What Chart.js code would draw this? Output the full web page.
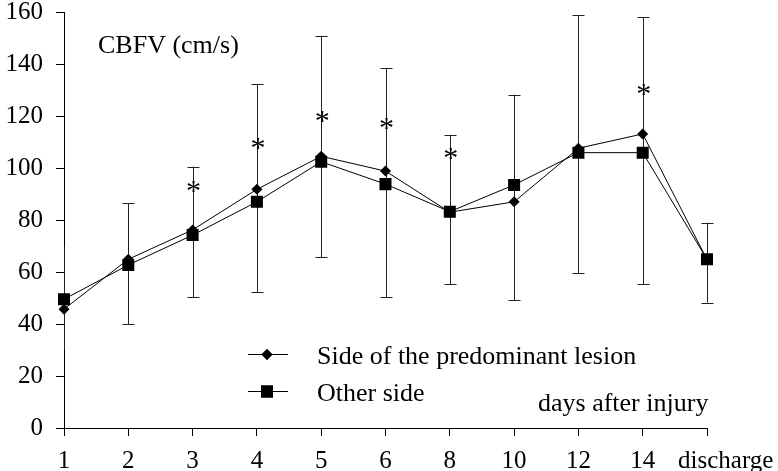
<!DOCTYPE html>
<html>
<head>
<meta charset="utf-8">
<script src="https://cdn.jsdelivr.net/npm/chart.js@4/dist/chart.umd.min.js"></script>
<style>
  html, body { margin: 0; padding: 0; background: #fff; }
  canvas { display: block; }
</style>
</head>
<body>
<canvas id="myChart" width="778" height="471"></canvas>
<script>
// data
const days = ['1', '2', '3', '4', '5', '6', '8', '10', '12', '14', 'discharge']
const lesionSide = [45.7, 64.9, 76.2, 91.8, 104.5, 98.8, 83, 87, 107.6, 113.1, 64.8]
const otherSide = [49.5, 62.7, 74.2, 87, 102.4, 93.8, 83.2, 93.5, 105.9, 105.9, 64.9]
const errHigh = [69.7, 86.4, 100.5, 132.2, 150.9, 138.5, 112.8, 128.2, 158.8, 158, 79]
const errLow = [30, 40, 50.3, 52.3, 65.7, 50.3, 55.4, 49.2, 59.5, 55.4, 48.2]
// significance marks: category -> height of the asterisk
const starDays = ['3', '4', '5', '6', '8', '14']
const starValues = [92, 108.4, 119, 116, 104.7, 129.3]
const yTicks = [0, 20, 40, 60, 80, 100, 120, 140, 160]

const serif = '"Liberation Serif", "Times New Roman", serif'

const errorBars = {
	id: 'errorBars',
	beforeDatasetsDraw(chart) {
		const { ctx, scales: { x, y }, chartArea } = chart
		ctx.save()
		ctx.strokeStyle = '#222'
		ctx.lineWidth = 1
		days.forEach((d, i) => {
			const px = Math.round(x.getPixelForValue(i)) + 0.5
			const top = y.getPixelForValue(errHigh[i])
			const bot = y.getPixelForValue(errLow[i])
			ctx.beginPath()
			ctx.moveTo(px, top)
			ctx.lineTo(px, bot)
			// caps are hidden where the bar sits on the y axis
			if (px - chartArea.left > 2) {
				ctx.moveTo(px - 6, Math.round(top) + 0.5)
				ctx.lineTo(px + 6, Math.round(top) + 0.5)
				ctx.moveTo(px - 6, Math.round(bot) + 0.5)
				ctx.lineTo(px + 6, Math.round(bot) + 0.5)
			}
			ctx.stroke()
		})
		ctx.restore()
	},
}

const annotations = {
	id: 'annotations',
	afterDraw(chart) {
		const { ctx, scales: { x, y } } = chart
		ctx.save()
		ctx.fillStyle = '#000'
		ctx.textBaseline = 'alphabetic'

		// asterisks
		ctx.font = '30px ' + serif
		ctx.textAlign = 'center'
		starDays.forEach((d, i) => {
			const px = x.getPixelForValue(days.indexOf(d))
			const py = y.getPixelForValue(starValues[i])
			ctx.fillText('*', px + 1, py + 11)
		})

		// axis captions
		ctx.font = '26px ' + serif
		ctx.textAlign = 'left'
		ctx.fillText('CBFV (cm/s)', 98, 53)
		ctx.fillText('days after injury', 538, 411)

		// legend
		const rows = [354, 391]
		chart.data.datasets.forEach((ds, i) => {
			const ry = rows[i] + 0.5
			ctx.strokeStyle = '#000'
			ctx.lineWidth = 1
			ctx.beginPath()
			ctx.moveTo(248, ry)
			ctx.lineTo(288, ry)
			ctx.stroke()
			Chart.helpers.drawPoint(ctx, {
				pointStyle: ds.pointStyle,
				radius: ds.pointRadius,
				rotation: 0,
				borderWidth: 0,
			}, 267, ry)
			ctx.fill()
			ctx.fillText(ds.label, 317, rows[i] + 10)
		})
		ctx.restore()
	},
}

const chartConfig = {
	type: 'line',
	data: {
		labels: days,
		datasets: [
			{
				label: 'Side of the predominant lesion',
				data: lesionSide,
				borderColor: '#000',
				borderWidth: 1,
				backgroundColor: '#000',
				pointStyle: 'rectRot',
				pointRadius: 5.5,
				pointBackgroundColor: '#000',
				pointBorderWidth: 0,
				tension: 0,
			},
			{
				label: 'Other side',
				data: otherSide,
				borderColor: '#000',
				borderWidth: 1,
				backgroundColor: '#000',
				pointStyle: 'rect',
				pointRadius: 8.5,
				pointBackgroundColor: '#000',
				pointBorderWidth: 0,
				tension: 0,
			},
		],
	},
	options: {
		responsive: false,
		animation: false,
		devicePixelRatio: 1,
		layout: { padding: 0 },
		plugins: {
			legend: { display: false },
			tooltip: { enabled: false },
		},
		scales: {
			x: {
				type: 'category',
				offset: false,
				grid: { drawOnChartArea: false, drawTicks: true, tickLength: 8, color: '#000' },
				border: { display: true, color: '#000', width: 1 },
				ticks: {
					color: '#000',
					font: { family: serif, size: 25 },
					padding: 10,
					maxRotation: 0,
					autoSkip: false,
					// the last label sits to the right of its tick
					callback(value, index) {
						const label = this.getLabelForValue(value)
						return index === days.length - 1 ? '      ' + label : label
					},
				},
				afterFit(scale) {
					scale.height = 43
					scale.paddingLeft = 0
					scale.paddingRight = 71
				},
			},
			y: {
				min: 0,
				max: 160,
				grid: { drawOnChartArea: false, drawTicks: true, tickLength: 8, color: '#000' },
				border: { display: true, color: '#000', width: 1 },
				ticks: {
					color: '#000',
					font: { family: serif, size: 25 },
					padding: 13,
					stepSize: 20,
				},
				afterBuildTicks(scale) {
					scale.ticks = yTicks.map(v => ({ value: v }))
				},
				afterFit(scale) {
					scale.width = 64
					scale.paddingTop = 12
					scale.paddingBottom = 0
				},
			},
		},
	},
	plugins: [errorBars, annotations],
}

new Chart(document.getElementById('myChart'), chartConfig)
</script>
</body>
</html>
